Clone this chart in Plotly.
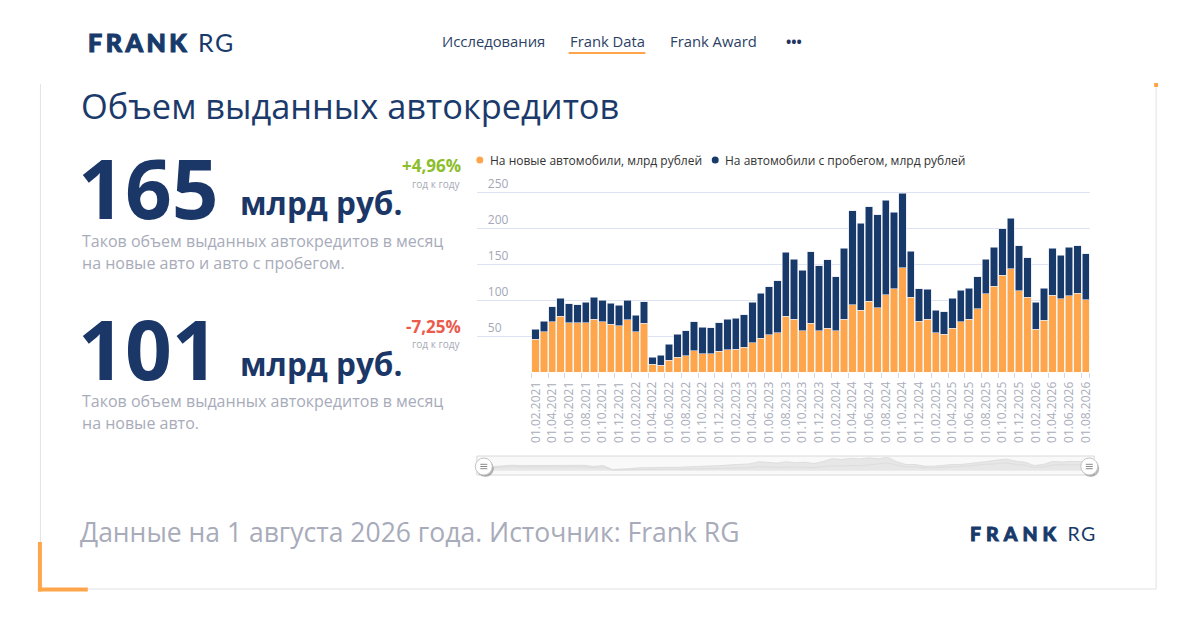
import plotly.graph_objects as go

# the page body has an 8px margin, so the figure is drawn 8px smaller
# and every position below is given in window pixels
OFF = 8
W, H = 1200 - OFF, 630 - OFF

dates = [
    "01.02.2021", "01.03.2021", "01.04.2021", "01.05.2021", "01.06.2021", "01.07.2021",
    "01.08.2021", "01.09.2021", "01.10.2021", "01.11.2021", "01.12.2021", "01.01.2022",
    "01.02.2022", "01.03.2022", "01.04.2022", "01.05.2022", "01.06.2022", "01.07.2022",
    "01.08.2022", "01.09.2022", "01.10.2022", "01.11.2022", "01.12.2022", "01.01.2023",
    "01.02.2023", "01.03.2023", "01.04.2023", "01.05.2023", "01.06.2023", "01.07.2023",
    "01.08.2023", "01.09.2023", "01.10.2023", "01.11.2023", "01.12.2023", "01.01.2024",
    "01.02.2024", "01.03.2024", "01.04.2024", "01.05.2024", "01.06.2024", "01.07.2024",
    "01.08.2024", "01.09.2024", "01.10.2024", "01.11.2024", "01.12.2024", "01.01.2025",
    "01.02.2025", "01.03.2025", "01.04.2025", "01.05.2025", "01.06.2025", "01.07.2025",
    "01.08.2025", "01.09.2025", "01.10.2025", "01.11.2025", "01.12.2025", "01.01.2026",
    "01.02.2026", "01.03.2026", "01.04.2026", "01.05.2026", "01.06.2026", "01.07.2026",
    "01.08.2026",
]

# млрд рублей, на новые автомобили
new_cars = [
    46, 56, 70, 78, 69, 69, 69, 74, 70, 67, 65, 73,
    56, 68, 11, 10, 17, 21, 23, 30, 26, 26, 29, 31.5,
    32, 35, 41, 47, 52, 55, 78, 74, 58, 68, 58, 61.5,
    58, 74, 93.5, 86, 98.5, 90, 108, 116, 145, 104, 71, 73.5,
    55, 53, 61.5, 70, 73.5, 88, 109, 119.5, 135, 144, 113, 104,
    59.5, 72, 107, 102, 106.5, 109.5, 101,
]

# млрд рублей, на автомобили с пробегом
used_cars = [
    14, 15, 21, 25, 26, 25, 28, 30, 30, 29, 28, 27,
    23, 30, 10, 14, 22, 32, 35, 40, 36.5, 36, 39.5, 42,
    43, 45, 56, 63, 67, 72, 89, 83, 84, 99.5, 90, 94.5,
    75, 98, 131, 121, 131.5, 128.5, 131, 106, 103.5, 64, 45, 42,
    31, 31, 41.5, 44, 43, 45, 48, 54.5, 64.5, 70, 63, 55,
    37.5, 44.5, 65, 60.5, 67, 66, 64,
]

y_ticks = [0, 50, 100, 150, 200, 250]
y_tick_text = ["", "50", "100", "150", "200", "250"]

NAVY = "#183a6b"
ORANGE = "#ffa64d"
GREY_TXT = "#a8abba"
FONT = "Open Sans"

Y_TOP = 290  # axis max, leaves room above the 250 label
PX_PER_UNIT = 0.72


def px(x):
    return (x - OFF) / W


def py(y):
    return 1 - (y - OFF) / H


fig = go.Figure()

fig.add_trace(go.Bar(x=dates, y=new_cars, name="На новые автомобили, млрд рублей",
                     marker=dict(color=ORANGE, line=dict(width=0.6, color="#f3f0ea"))))
fig.add_trace(go.Bar(x=dates, y=used_cars, name="На автомобили с пробегом, млрд рублей",
                     marker=dict(color=NAVY, line=dict(width=0.6, color="#dfe3ec"))))

# scrollbar preview
for ser in (new_cars, used_cars):
    fig.add_trace(go.Scatter(x=list(range(len(dates))), y=ser, xaxis="x2", yaxis="y2",
                             mode="lines", stackgroup="mini", line=dict(width=0.8, color="#d9d9d9"),
                             fillcolor="#e7e7e7", hoverinfo="skip"))

fig.update_layout(
    width=W, height=H,
    margin=dict(l=0, r=0, t=0, b=0),
    paper_bgcolor="white", plot_bgcolor="white",
    barmode="stack", bargap=0.12,
    showlegend=False,
    font=dict(family=FONT, color="#333"),
    xaxis=dict(
        type="category", domain=[px(478), px(1093)], range=[-7.06, 66.54],
        tickvals=dates[::2], tickangle=-90, tickson="boundaries",
        ticks="outside", ticklen=5, tickcolor="#d3d8e3", ticklabelstandoff=6,
        tickfont=dict(size=12, color="#a9adba"),
        showgrid=False, showline=False, zeroline=False, fixedrange=True,
    ),
    yaxis=dict(
        domain=[py(372.3), py(372.3 - Y_TOP * PX_PER_UNIT)], range=[0, Y_TOP],
        tickvals=y_ticks, ticktext=y_tick_text,
        ticklabelposition="inside top", ticks="", ticklabelstandoff=8,
        tickfont=dict(size=12, color="#a3a7b8"),
        showgrid=True, gridcolor="#dde3f2", gridwidth=1,
        zeroline=False, showline=False, fixedrange=True,
    ),
    xaxis2=dict(domain=[px(485), px(1092)], range=[0, 66], anchor="y2",
                visible=False, fixedrange=True),
    yaxis2=dict(domain=[py(475), py(457)], range=[-80, 255], anchor="x2",
                visible=False, fixedrange=True),
)

shapes = []
# card border
shapes.append(dict(type="line", xref="paper", yref="paper", x0=px(40.5), x1=px(40.5),
                   y0=py(84), y1=py(589), line=dict(color="#e2e2e2", width=1)))
shapes.append(dict(type="line", xref="paper", yref="paper", x0=px(1159), x1=px(1159),
                   y0=py(84), y1=py(589), line=dict(color="#e2e2e2", width=1)))
shapes.append(dict(type="line", xref="paper", yref="paper", x0=px(40), x1=px(1159),
                   y0=py(589), y1=py(589), line=dict(color="#e2e2e2", width=1)))
shapes.append(dict(type="rect", xref="paper", yref="paper", x0=px(1157), x1=px(1161),
                   y0=py(87), y1=py(83), fillcolor=ORANGE, line=dict(width=0)))
shapes.append(dict(type="rect", xref="paper", yref="paper", x0=px(38), x1=px(42),
                   y0=py(591.5), y1=py(542), fillcolor=ORANGE, line=dict(width=0)))
shapes.append(dict(type="rect", xref="paper", yref="paper", x0=px(38), x1=px(88),
                   y0=py(591.5), y1=py(587.5), fillcolor=ORANGE, line=dict(width=0)))
# nav underline
shapes.append(dict(type="line", xref="paper", yref="paper", x0=px(570), x1=px(647),
                   y0=py(53), y1=py(53), line=dict(color=ORANGE, width=2)))
# legend dots
shapes.append(dict(type="circle", xref="paper", yref="paper", x0=px(477.5), x1=px(484.5),
                   y0=py(163.5), y1=py(156.5), fillcolor=ORANGE, line=dict(width=0)))
shapes.append(dict(type="circle", xref="paper", yref="paper", x0=px(713.5), x1=px(720.5),
                   y0=py(163.5), y1=py(156.5), fillcolor=NAVY, line=dict(width=0)))
# scrollbar frame
shapes.append(dict(type="rect", xref="paper", yref="paper", x0=px(478), x1=px(1097),
                   y0=py(475), y1=py(456), fillcolor="rgba(245,245,245,0.6)",
                   line=dict(color="#dadada", width=1), layer="below"))
# scrollbar handles
for cx in (485, 1092):
    cy = 466.5
    r = 8.5
    shapes.append(dict(type="circle", xref="paper", yref="paper",
                       x0=px(cx - r + 1.5), x1=px(cx + r + 1.5), y0=py(cy + r + 2), y1=py(cy - r + 2),
                       fillcolor="rgba(0,0,0,0.28)", line=dict(width=0)))
    shapes.append(dict(type="circle", xref="paper", yref="paper",
                       x0=px(cx - r), x1=px(cx + r), y0=py(cy + r), y1=py(cy - r),
                       fillcolor="white", line=dict(color="#c4c4c4", width=1)))
    for dy in (-2.2, 0, 2.2):
        shapes.append(dict(type="line", xref="paper", yref="paper",
                           x0=px(cx - 3.5), x1=px(cx + 3.5), y0=py(cy + dy), y1=py(cy + dy),
                           line=dict(color="#8a8a8a", width=1)))
fig.update_layout(shapes=shapes)


def note(text, x, y, size, color, xanchor="left", weight="normal", family=FONT):
    fig.add_annotation(text=text, x=px(x), y=py(y), xref="paper", yref="paper",
                       xanchor=xanchor, yanchor="middle", showarrow=False,
                       font=dict(size=size, color=color, family=family, weight=weight))


def logo(stroke, spacing):
    return ('<span style="font-weight:900;letter-spacing:%spx;stroke:%s;stroke-width:%spx">FRANK</span>'
            '<span style="letter-spacing:1.5px"> RG</span>' % (spacing, NAVY, stroke))


# header
note(logo(1.1, 3.5), 86, 42, 25, NAVY, family="Lato")
note("Исследования", 441, 41, 14.8, "#2c3f66")
note("Frank Data", 569, 41, 14.8, "#2c3f66")
note("Frank Award", 670, 41, 14.8, "#2c3f66")
note("<b>•••</b>", 786, 41, 14, "#1f3461")

# title
note("Объем выданных автокредитов", 79, 105, 34.4, "#1b3a6b")

# block 1
note("<b>165</b>", 76, 187, 82, "#1a3768")
note("<b>млрд руб.</b>", 239, 203, 31.5, "#1a3768")
note("<b>+4,96%</b>", 464, 165, 17, "#8cbd2a", xanchor="right")
note("год к году", 464, 184, 10, "#a6a9b6", xanchor="right")
note("Таков объем выданных автокредитов в месяц", 80, 241, 16, GREY_TXT)
note("на новые авто и авто с пробегом.", 80, 263, 16, GREY_TXT)

# block 2
note("<b>101</b>", 76, 348, 82, "#1a3768")
note("<b>млрд руб.</b>", 239, 363, 31.5, "#1a3768")
note("<b>-7,25%</b>", 464, 326, 17, "#ec5a4b", xanchor="right")
note("год к году", 464, 344, 10, "#a6a9b6", xanchor="right")
note("Таков объем выданных автокредитов в месяц", 80, 401, 16, GREY_TXT)
note("на новые авто.", 80, 423, 16, GREY_TXT)

# legend
note("На новые автомобили, млрд рублей", 489, 160, 12, "#333")
note("На автомобили с пробегом, млрд рублей", 725, 160, 12, "#333")

# footer
note("Данные на 1 августа 2026 года. Источник: Frank RG", 78, 532, 26.5, GREY_TXT)
note(logo(0.9, 5), 970, 533, 19.5, NAVY, family="Lato")

fig.write_html("out.html", config={"displayModeBar": False})
